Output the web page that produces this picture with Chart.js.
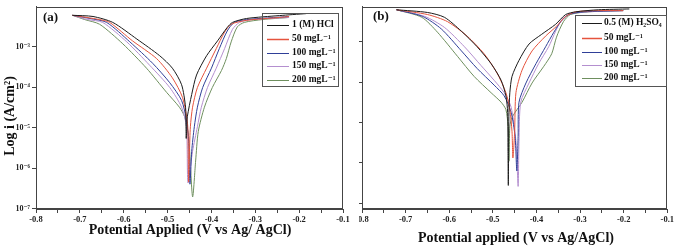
<!DOCTYPE html>
<html>
<head>
<meta charset="utf-8">
<script src="https://cdn.jsdelivr.net/npm/chart.js@4.4.0/dist/chart.umd.min.js"></script>
<style>
  body { margin: 0; background: #fff; width: 676px; height: 247px; overflow: hidden; position: relative; }
  #wa { position: absolute; left: 0; top: 0; width: 359px; height: 247px; background: #fff; z-index: 2; }
  #wb { position: absolute; left: 338px; top: 0; width: 338px; height: 247px; z-index: 1; }
</style>
</head>
<body>
<div id="wa"><canvas id="chartA"></canvas></div>
<div id="wb"><canvas id="chartB"></canvas></div>
<script>
// ---- data: potential (V vs Ag/AgCl) and current density (A/cm2) ----
// panel (a): 1 M HCl
const namesA = ["1 (M) HCl", "50 mgL⁻¹", "100 mgL⁻¹", "150 mgL⁻¹", "200 mgL⁻¹"];
const aBlankE = [-0.717, -0.670, -0.625, -0.570, -0.518, -0.489, -0.468, -0.459, -0.458, -0.4575, -0.456, -0.455, -0.445, -0.434, -0.411, -0.386, -0.364, -0.352, -0.320, -0.245, -0.184];
const aBlankI = [6.0e-3, 5.6e-3, 4.0e-3, 1.55e-3, 6.0e-4, 2.95e-4, 1.15e-4, 3.2e-5, 1.05e-5, 5.4e-6, 1.05e-5, 1.85e-5, 6.6e-5, 2.0e-4, 6.0e-4, 1.4e-3, 3.0e-3, 4.0e-3, 5.0e-3, 5.9e-3, 6.6e-3];
const a50E = [-0.717, -0.655, -0.632, -0.580, -0.525, -0.489, -0.466, -0.4545, -0.453, -0.452, -0.450, -0.448, -0.443, -0.432, -0.411, -0.389, -0.370, -0.355, -0.320, -0.245, -0.223];
const a50I = [6.0e-3, 4.7e-3, 4.0e-3, 1.4e-3, 5.1e-4, 1.7e-4, 5.6e-5, 1.26e-5, 2.6e-6, 4.5e-7, 2.6e-6, 1.05e-5, 3.2e-5, 9.8e-5, 2.95e-4, 9.0e-4, 2.3e-3, 3.6e-3, 4.5e-3, 5.3e-3, 5.6e-3];
const a100E = [-0.717, -0.677, -0.639, -0.586, -0.534, -0.495, -0.468, -0.457, -0.452, -0.449, -0.445, -0.439, -0.432, -0.420, -0.400, -0.382, -0.364, -0.348, -0.320, -0.223];
const a100I = [6.0e-3, 5.0e-3, 4.0e-3, 1.32e-3, 3.9e-4, 1.29e-4, 4.7e-5, 1.55e-5, 4.6e-6, 4.0e-7, 2.6e-6, 1.05e-5, 3.2e-5, 9.8e-5, 2.95e-4, 9.0e-4, 2.45e-3, 4.0e-3, 4.7e-3, 5.6e-3];
const a150E = [-0.717, -0.682, -0.648, -0.593, -0.541, -0.495, -0.468, -0.457, -0.4535, -0.443, -0.432, -0.423, -0.409, -0.389, -0.370, -0.352, -0.336, -0.309, -0.223];
const a150I = [6.0e-3, 4.7e-3, 4.0e-3, 1.32e-3, 3.5e-4, 9.8e-5, 3.2e-5, 1.05e-5, 4.3e-7, 2.6e-6, 1.05e-5, 3.2e-5, 9.8e-5, 2.95e-4, 9.0e-4, 2.7e-3, 4.0e-3, 4.7e-3, 5.3e-3];
const a200E = [-0.717, -0.689, -0.655, -0.602, -0.548, -0.502, -0.473, -0.461, -0.452, -0.443, -0.436, -0.430, -0.416, -0.398, -0.377, -0.366, -0.355, -0.341, -0.325, -0.284, -0.223];
const a200I = [6.0e-3, 4.7e-3, 3.6e-3, 1.18e-3, 2.95e-4, 7.4e-5, 3.2e-5, 1.85e-5, 6.0e-6, 1.95e-7, 1.5e-6, 8.0e-6, 3.2e-5, 9.8e-5, 2.6e-4, 5.1e-4, 1.32e-3, 3.1e-3, 4.0e-3, 4.7e-3, 5.3e-3];

// panel (b): 0.5 M H2SO4
const namesB = ["0.5 (M) H₂SO₄", "50 mgL⁻¹", "100 mgL⁻¹", "150 mgL⁻¹", "200 mgL⁻¹"];
const bBlankE = [-0.721, -0.650, -0.611, -0.572, -0.536, -0.504, -0.481, -0.470, -0.466, -0.4652, -0.4645, -0.4638, -0.463, -0.461, -0.456, -0.440, -0.417, -0.388, -0.356, -0.333, -0.310, -0.258, -0.187];
const bBlankI = [6.3e-3, 5.4e-3, 4.1e-3, 1.85e-3, 7.6e-4, 2.9e-4, 1.12e-4, 4.6e-5, 1.78e-5, 1.9e-6, 2.75e-7, 1.9e-6, 1.78e-5, 5.5e-5, 1.4e-4, 3.5e-4, 8.9e-4, 1.55e-3, 2.75e-3, 4.8e-3, 5.6e-3, 6.3e-3, 6.6e-3];
const b50E = [-0.721, -0.650, -0.604, -0.559, -0.520, -0.490, -0.470, -0.461, -0.456, -0.454, -0.450, -0.447, -0.433, -0.410, -0.379, -0.354, -0.333, -0.310, -0.258, -0.201];
const b50I = [6.3e-3, 4.8e-3, 3.2e-3, 1.4e-3, 5.1e-4, 1.67e-4, 5.5e-5, 2.1e-5, 5.9e-6, 1.32e-6, 5.9e-6, 5.5e-5, 2.0e-4, 6.0e-4, 1.4e-3, 2.45e-3, 4.3e-3, 5.6e-3, 6.0e-3, 6.0e-3];
const b100E = [-0.721, -0.661, -0.618, -0.572, -0.536, -0.497, -0.474, -0.458, -0.449, -0.445, -0.442, -0.440, -0.424, -0.401, -0.379, -0.360, -0.344, -0.326, -0.292, -0.201];
const b100I = [6.3e-3, 4.3e-3, 2.1e-3, 6.0e-4, 2.2e-4, 8.5e-5, 4.6e-5, 1.78e-5, 4.5e-6, 6.3e-7, 4.5e-6, 3.2e-5, 9.6e-5, 2.9e-4, 7.6e-4, 1.75e-3, 3.2e-3, 4.8e-3, 5.6e-3, 6.0e-3];
const b150E = [-0.721, -0.656, -0.611, -0.565, -0.527, -0.497, -0.474, -0.458, -0.447, -0.442, -0.440, -0.436, -0.417, -0.395, -0.372, -0.356, -0.342, -0.322, -0.281, -0.201];
const b150I = [6.3e-3, 4.3e-3, 2.3e-3, 7.6e-4, 2.6e-4, 1.12e-4, 5.5e-5, 2.4e-5, 3.4e-6, 2.6e-7, 3.4e-6, 3.2e-5, 9.6e-5, 2.9e-4, 7.6e-4, 1.85e-3, 3.6e-3, 5.0e-3, 5.6e-3, 6.0e-3];
const b200E = [-0.721, -0.663, -0.627, -0.581, -0.543, -0.504, -0.481, -0.470, -0.465, -0.463, -0.461, -0.456, -0.433, -0.410, -0.383, -0.365, -0.354, -0.338, -0.322, -0.281, -0.201];
const b200I = [6.3e-3, 4.1e-3, 1.75e-3, 4.4e-4, 1.4e-4, 5.5e-5, 3.2e-5, 2.1e-5, 7.8e-6, 1.1e-6, 7.8e-6, 1.35e-5, 3.2e-5, 9.6e-5, 2.5e-4, 5.1e-4, 1.32e-3, 3.2e-3, 4.8e-3, 5.6e-3, 6.0e-3];

// axis ticks
const yTickValues = [1e-7, 1e-6, 1e-5, 1e-4, 1e-3];
const yTickLabelsA = ["10⁻⁷", "10⁻⁶", "10⁻⁵", "10⁻⁴", "10⁻³"];
const yTickLabelsB = ["", "", "", "", ""];

const colors = ["#1b1b1b", "#e5533d", "#2f3f98", "#b48fcf", "#6e8f5e"];
const FONT = "'Liberation Serif', 'DejaVu Serif', serif";

function pairs(E, I) {
  return E.map((e, i) => ({ x: e, y: I[i] }));
}

function makeDatasets(names, list) {
  return list.map((s, k) => ({
    label: names[k],
    data: pairs(s[0], s[1]),
    borderColor: colors[k],
    borderWidth: 1,
    pointRadius: 0,
    showLine: true,
    tension: 0.25,
  }));
}

// frame, legend, panel label, axis titles
function decor(cfg) {
  return {
    id: "decor",
    afterDraw(chart) {
      const ctx = chart.ctx;
      const a = chart.chartArea;
      ctx.save();
      ctx.strokeStyle = "#444";
      ctx.lineWidth = 1;
      ctx.strokeRect(Math.round(a.left) + 0.5, Math.round(a.top) + 0.5,
        Math.round(a.right - a.left) - 1, Math.round(a.bottom - a.top) - 1);

      // legend
      const lg = cfg.legend;
      ctx.strokeStyle = "#555";
      ctx.strokeRect(lg.x + 0.5, lg.y + 0.5, lg.w, lg.h);
      ctx.font = "bold 9.5px " + FONT;
      ctx.textBaseline = "middle";
      ctx.textAlign = "left";
      cfg.names.forEach((n, k) => {
        const y = lg.rows[k];
        ctx.strokeStyle = colors[k];
        ctx.lineWidth = k === 1 ? 1.5 : 1;
        ctx.beginPath();
        ctx.moveTo(lg.l0, y + 0.5);
        ctx.lineTo(lg.l1, y + 0.5);
        ctx.stroke();
        ctx.fillStyle = "#111";
        ctx.fillText(n, lg.tx, y);
      });

      // panel label
      ctx.fillStyle = "#111";
      ctx.font = "bold 13px " + FONT;
      ctx.fillText(cfg.panel, cfg.panelX, cfg.panelY);

      // axis titles
      ctx.font = "bold 14px " + FONT;
      ctx.textAlign = "center";
      ctx.fillText(cfg.xTitle, cfg.xTitleX, cfg.xTitleY);
      if (cfg.yTitle) {
        ctx.translate(cfg.yTitleX, cfg.yTitleY);
        ctx.rotate(-Math.PI / 2);
        ctx.fillText(cfg.yTitle, 0, 0);
      }
      ctx.restore();
    },
  };
}

function makeChart(id, names, list, opt) {
  return new Chart(document.getElementById(id), {
    type: "scatter",
    data: { datasets: makeDatasets(names, list) },
    options: {
      responsive: true,
      maintainAspectRatio: false,
      animation: false,
      layout: { padding: { left: 0, right: opt.padRight, top: 2, bottom: 0 } },
      plugins: { legend: { display: false }, tooltip: { enabled: false } },
      scales: {
        x: {
          type: "linear",
          min: -0.8,
          max: -0.1,
          afterFit: (s) => { s.height = 38; },
          ticks: {
            stepSize: 0.05,
            autoSkip: false,
            maxRotation: 0,
            padding: 2,
            color: "#222",
            font: { family: FONT, size: 8.5, weight: "bold" },
            callback: (v) => (Math.round(v * 20) % 2 === 0 ? v.toFixed(1) : ""),
          },
          grid: { drawOnChartArea: false, tickLength: 4, color: "#444" },
          border: { color: "#444" },
        },
        y: {
          type: "logarithmic",
          min: opt.yMin,
          max: opt.yMax,
          afterFit: (s) => { s.width = opt.yWidth; },
          afterBuildTicks: (s) => { s.ticks = yTickValues.map((v) => ({ value: v })); },
          ticks: {
            padding: 2,
            color: "#222",
            font: { family: FONT, size: 8, weight: "bold" },
            callback: (v, i) => opt.yLabels[i],
          },
          grid: { drawOnChartArea: false, tickLength: 4, color: "#444" },
          border: { color: "#444" },
        },
      },
    },
    plugins: [decor(opt.decor)],
  });
}

makeChart("chartA", namesA,
  [[aBlankE, aBlankI], [a50E, a50I], [a100E, a100I], [a150E, a150I], [a200E, a200I]],
  {
    padRight: 16, yWidth: 36,
    yMin: Math.pow(10, -7.012), yMax: Math.pow(10, -2.012),
    yLabels: yTickLabelsA,
    decor: {
      names: namesA,
      legend: { x: 262, y: 13, w: 76, h: 73, rows: [25, 39, 53, 66, 80], l0: 267, l1: 289, tx: 292 },
      panel: "(a)", panelX: 43, panelY: 18,
      xTitle: "Potential Applied (V vs Ag/ AgCl)", xTitleX: 190, xTitleY: 230,
      yTitle: "Log i (A/cm²)", yTitleX: 10, yTitleY: 116,
    },
  });

makeChart("chartB", namesB,
  [[bBlankE, bBlankI], [b50E, b50I], [b100E, b100I], [b150E, b150I], [b200E, b200I]],
  {
    padRight: 7, yWidth: 24,
    yMin: Math.pow(10, -7.145), yMax: Math.pow(10, -2.127),
    yLabels: yTickLabelsB,
    decor: {
      names: namesB,
      legend: { x: 237, y: 15, w: 91, h: 71, rows: [23, 38, 52, 65, 78], l0: 244, l1: 264, tx: 266 },
      panel: "(b)", panelX: 35, panelY: 17,
      xTitle: "Potential applied (V vs Ag/AgCl)", xTitleX: 178, xTitleY: 238,
      yTitle: null,
    },
  });
</script>
</body>
</html>
